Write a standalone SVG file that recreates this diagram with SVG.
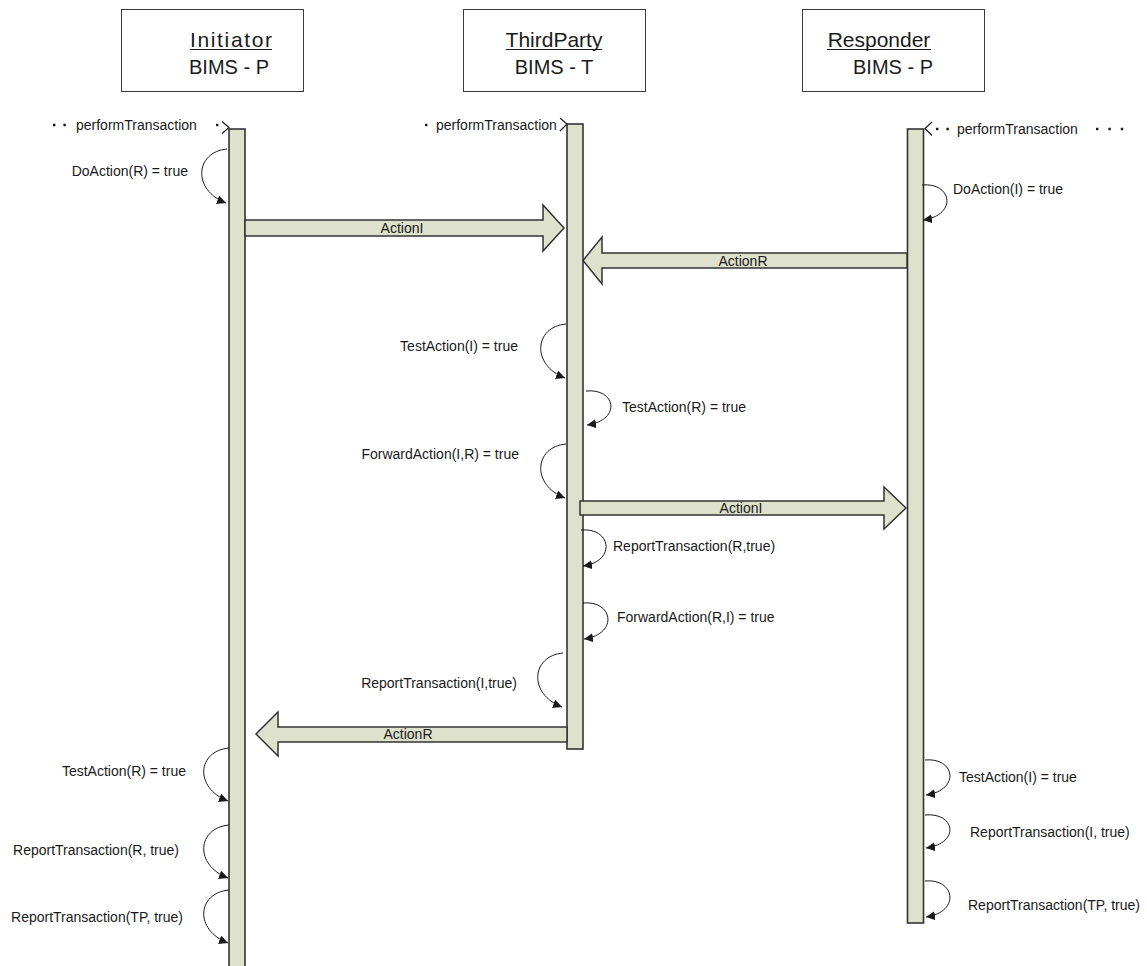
<svg xmlns="http://www.w3.org/2000/svg" width="1147" height="966" viewBox="0 0 1147 966">
  <defs>
    <style>
      text { font-family: "Liberation Sans", Arial, sans-serif; fill: #1a1a1a; }
      .head { fill: #ffffff; stroke: #3a3a3a; stroke-width: 1; }
      .title { font-size: 21px; text-anchor: middle; }
      .uline { stroke: #1a1a1a; stroke-width: 1.2; }
      .sub { font-size: 20px; text-anchor: middle; }
      .bar { fill: #dee1cc; stroke: #333333; stroke-width: 1.6; }
      .block { fill: #dee1cc; stroke: #333333; stroke-width: 1.5; stroke-linejoin: miter; }
      .lbl { font-size: 14px; }
      .mid { text-anchor: middle; }
      .end { text-anchor: end; }
      .self { fill: none; stroke: #1a1a1a; stroke-width: 1; marker-end: url(#tip); }
      .dots { fill: none; stroke: #1a1a1a; stroke-width: 2.4; stroke-dasharray: 2.4 8; }
      .open { fill: none; stroke: #1a1a1a; stroke-width: 1.2; }
    </style>
    <marker id="tip" markerUnits="userSpaceOnUse" markerWidth="10" markerHeight="9" refX="9" refY="4.5" orient="auto">
      <path d="M0,0 L9,4.5 L0,9 z" fill="#1a1a1a"/>
    </marker>
  </defs>

  <!-- participant heads -->
  <g id="initiator-head">
    <rect class="head" x="121.5" y="9.5" width="182" height="82"/>
    <text class="title" x="231" y="47" font-size="22" textLength="82" lengthAdjust="spacing">Initiator</text>
    <line class="uline" x1="190" y1="49.5" x2="272" y2="49.5"/>
    <text class="sub" x="229" y="74">BIMS - P</text>
  </g>
  <g id="thirdparty-head">
    <rect class="head" x="463.5" y="9.5" width="182" height="82"/>
    <text class="title" x="554" y="47">ThirdParty</text>
    <line class="uline" x1="506" y1="49.5" x2="602" y2="49.5"/>
    <text class="sub" x="554" y="74">BIMS - T</text>
  </g>
  <g id="responder-head">
    <rect class="head" x="802.5" y="9.5" width="182" height="82"/>
    <text class="title" x="879" y="47">Responder</text>
    <line class="uline" x1="827" y1="49.5" x2="931" y2="49.5"/>
    <text class="sub" x="893" y="74">BIMS - P</text>
  </g>

  <!-- activation bars -->
  <g id="initiator-bar">
    <rect class="bar" x="229" y="129" width="16" height="845"/>
  </g>
  <g id="thirdparty-bar">
    <rect class="bar" x="567" y="124" width="16" height="625"/>
  </g>
  <g id="responder-bar">
    <rect class="bar" x="907.5" y="129" width="16" height="794"/>
  </g>

  <g id="connectors">
    <!-- incoming performTransaction calls -->
    <g id="call-initiator">
      <path class="dots" d="M53,125 H68"/>
      <text class="lbl" x="76" y="129.5">performTransaction</text>
      <path class="dots" d="M216,125 H220"/>
      <path class="open" d="M222,121.5 L229,127.5 L222,133.5"/>
    </g>
    <g id="call-thirdparty">
      <path class="dots" d="M425,125 H428"/>
      <text class="lbl" x="436" y="129.5">performTransaction</text>
      <path class="open" d="M560,118 L567,124 L560,131"/>
    </g>
    <g id="call-responder">
      <path class="open" d="M932,122 L925,128.5 L932,135.5"/>
      <path class="dots" d="M936,129 H950"/>
      <text class="lbl" x="957" y="133.5">performTransaction</text>
      <path class="dots" d="M1096,129 H1124" style="stroke-dasharray: 2.4 10"/>
    </g>

    <!-- block messages -->
    <g id="msg-actionI-1">
      <polygon class="block" points="245,220 543,220 543,205 564,228 543,251 543,236 245,236"/>
      <text class="lbl mid" x="402" y="233">ActionI</text>
    </g>
    <g id="msg-actionR-1">
      <polygon class="block" points="907,253 602,253 602,237 583,260.5 602,284 602,268 907,268"/>
      <text class="lbl mid" x="743" y="265.5">ActionR</text>
    </g>
    <g id="msg-actionI-2">
      <polygon class="block" points="580,501 884,501 884,487 906,508 884,529 884,515 580,515"/>
      <text class="lbl mid" x="741" y="512.5">ActionI</text>
    </g>
    <g id="msg-actionR-2">
      <polygon class="block" points="567,727 278,727 278,712 256,734 278,756 278,742 567,742"/>
      <text class="lbl mid" x="408" y="738.5">ActionR</text>
    </g>

    <!-- self calls: Initiator -->
    <g id="self-init-doaction">
      <path class="self" d="M227,149 C195,152 192,190 226,203"/>
      <text class="lbl end" x="188" y="176">DoAction(R) = true</text>
    </g>
    <g id="self-init-testaction">
      <path class="self" d="M229,748 C197,751 194,788 228,801"/>
      <text class="lbl end" x="186" y="776">TestAction(R) = true</text>
    </g>
    <g id="self-init-report-r">
      <path class="self" d="M229,825 C197,828 194,865 228,878"/>
      <text class="lbl end" x="179" y="855">ReportTransaction(R, true)</text>
    </g>
    <g id="self-init-report-tp">
      <path class="self" d="M229,890 C197,893 194,930 228,943"/>
      <text class="lbl end" x="183" y="922">ReportTransaction(TP, true)</text>
    </g>

    <!-- self calls: ThirdParty -->
    <g id="self-tp-testaction-i">
      <path class="self" d="M566,324 C534,327 531,365 565,378"/>
      <text class="lbl end" x="518" y="351">TestAction(I) = true</text>
    </g>
    <g id="self-tp-testaction-r">
      <path class="self" d="M586,391 C616,388 622,420 587,425"/>
      <text class="lbl" x="622" y="412">TestAction(R) = true</text>
    </g>
    <g id="self-tp-forward-ir">
      <path class="self" d="M566,444 C534,447 531,485 565,498"/>
      <text class="lbl end" x="519" y="459">ForwardAction(I,R) = true</text>
    </g>
    <g id="self-tp-report-r">
      <path class="self" d="M581,530 C611,527 617,561 583,566"/>
      <text class="lbl" x="613" y="551">ReportTransaction(R,true)</text>
    </g>
    <g id="self-tp-forward-ri">
      <path class="self" d="M583,603 C613,600 619,634 584,639"/>
      <text class="lbl" x="617" y="622">ForwardAction(R,I) = true</text>
    </g>
    <g id="self-tp-report-i">
      <path class="self" d="M563,653 C531,656 528,694 562,707"/>
      <text class="lbl end" x="517" y="688">ReportTransaction(I,true)</text>
    </g>

    <!-- self calls: Responder -->
    <g id="self-resp-doaction">
      <path class="self" d="M922,185 C952,182 958,215 923,220"/>
      <text class="lbl" x="953" y="194">DoAction(I) = true</text>
    </g>
    <g id="self-resp-testaction">
      <path class="self" d="M925,760 C955,757 961,790 926,795"/>
      <text class="lbl" x="959" y="782">TestAction(I) = true</text>
    </g>
    <g id="self-resp-report-i">
      <path class="self" d="M925,815 C955,812 961,843 926,848"/>
      <text class="lbl" x="970" y="837">ReportTransaction(I, true)</text>
    </g>
    <g id="self-resp-report-tp">
      <path class="self" d="M925,881 C955,878 961,912 926,917"/>
      <text class="lbl" x="968" y="910">ReportTransaction(TP, true)</text>
    </g>
  </g>
</svg>
